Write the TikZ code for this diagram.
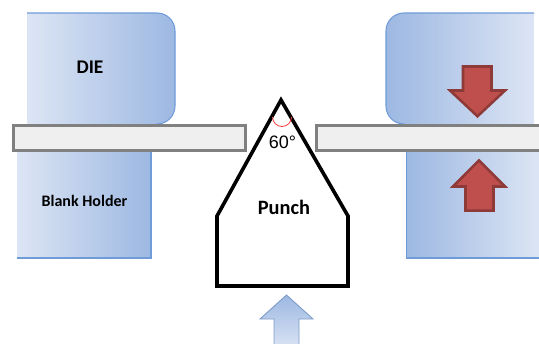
\documentclass[tikz,border=0pt]{standalone}
\usepackage{fontspec}
\setmainfont{Carlito}
\newfontfamily\labelfont{Liberation Sans}
\definecolor{bluelight}{HTML}{DCE5F4}
\definecolor{bluedark}{HTML}{9DB8E2}
\definecolor{blueline}{HTML}{6F9BD8}
\definecolor{sheetfill}{HTML}{EFEFEF}
\definecolor{sheetline}{HTML}{808080}
\definecolor{redfill}{HTML}{BE4F4C}
\definecolor{redline}{HTML}{8E3A38}
\definecolor{arrowline}{HTML}{7F9DC9}
\tikzset{
  x=0.75pt,y=-0.75pt,
  tool/.style={draw=none},
  toolline/.style={draw=blueline,line width=0.8pt},
  sheet/.style={draw=sheetline,fill=sheetfill,line width=2.25pt,line join=miter},
  redarrow/.style={draw=redline,fill=redfill,line width=1.9pt,line join=miter},
  punchline/.style={draw=black,line join=miter},
  caption/.style={inner sep=0pt,text=black}
}
\begin{document}
\begin{tikzpicture}
\useasboundingbox (0,0) rectangle (539,343);
\clip (0,0) rectangle (539,343);
% dies
\path[tool,left color=bluelight,right color=bluedark]
  (27,13) -- (157,13) .. controls (167,13) and (175,21) .. (175,31) -- (175,106)
  .. controls (175,116) and (167,124) .. (157,124) -- (27,124) -- cycle;
\draw[toolline] (27,13) -- (157,13) .. controls (167,13) and (175,21) .. (175,31) -- (175,106)
  .. controls (175,116) and (167,124) .. (157,124);
\path[tool,left color=bluedark,right color=bluelight]
  (534,13) -- (404,13) .. controls (394,13) and (386,21) .. (386,31) -- (386,106)
  .. controls (386,116) and (394,124) .. (404,124) -- (534,124) -- cycle;
\draw[toolline] (534,13) -- (404,13) .. controls (394,13) and (386,21) .. (386,31) -- (386,106)
  .. controls (386,116) and (394,124) .. (404,124);
% blank holders
\path[tool,left color=bluelight,right color=bluedark] (17,150) rectangle (151,258);
\draw[toolline] (151,150) -- (151,258) -- (17,258);
\path[tool,left color=bluedark,right color=bluelight] (406,150) rectangle (539,258);
\draw[toolline] (406.5,150) -- (406.5,258) -- (539,258);
% sheets
\draw[sheet] (13.5,125.5) rectangle (245.5,150.5);
\draw[sheet] (316.5,125.5) rectangle (545,150.5);
% red arrows
\draw[redarrow] (463,66.5) -- (491.5,66.5) -- (491.5,90.5) -- (505,90.5) -- (477.5,116.3) -- (450,90.5) -- (463,90.5) -- cycle;
\draw[redarrow] (465.5,210.7) -- (493.5,210.7) -- (493.5,186.5) -- (505,186.5) -- (479,160.4) -- (453,186.5) -- (465.5,186.5) -- cycle;
% punch
\fill[white] (281,98) -- (348,216) -- (348,287) -- (217,287) -- (217,216) -- cycle;
\draw[punchline,line width=2.7pt] (217,287) -- (217,216) -- (281,100) -- (348,216) -- (348,287);
\draw[punchline,line width=3.6pt,line cap=rect] (217,286) -- (348,286);
% angle mark
\draw[red!75,line width=0.6pt] (272.5,117) arc[start angle=180,end angle=0,radius=9.5];
% lower arrow
\path[draw=arrowline,line width=0.7pt,top color=bluedark,bottom color=bluelight]
  (286.5,295) -- (313,319) -- (299,319) -- (299,350) -- (274,350) -- (274,319) -- (260,319) -- cycle;
% labels
\node[caption,font=\bfseries\fontsize{14.5pt}{16pt}\selectfont] (die) at (90,67) {DIE};
\node[caption,font=\bfseries\fontsize{12pt}{14pt}\selectfont] (holder) at (84.5,201) {Blank Holder};
\node[caption,font=\bfseries\fontsize{15.3pt}{17pt}\selectfont] (punch) at (284,207.5) {Punch};
\node[caption,font=\labelfont\fontsize{13.5pt}{15pt}\selectfont] (angle) at (282.5,142) {60°};
\end{tikzpicture}
\end{document}
